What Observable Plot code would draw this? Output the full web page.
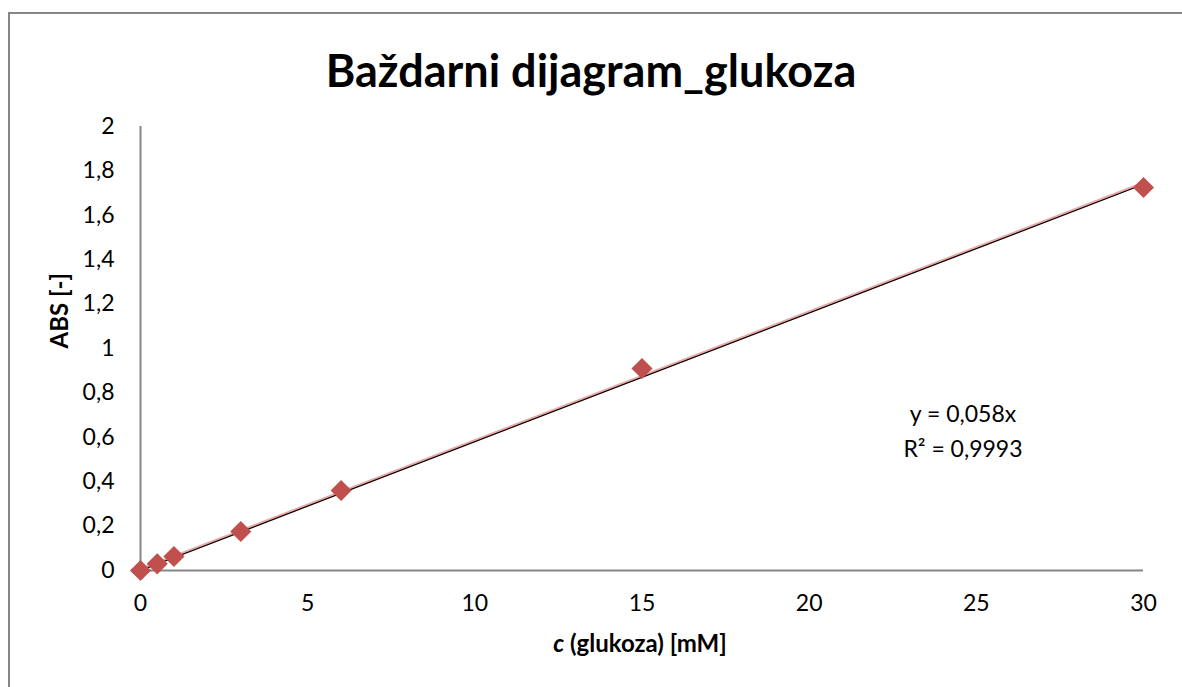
<!DOCTYPE html>
<html>
<head>
<meta charset="utf-8">
<script src="https://cdn.jsdelivr.net/npm/d3@7"></script>
<script src="https://cdn.jsdelivr.net/npm/@observablehq/plot@0.6"></script>
<style>
  html, body { margin: 0; padding: 0; background: #fff; }
  #wrap { position: relative; width: 1182px; height: 687px; overflow: hidden; font-family: Lato, "Open Sans", sans-serif; }
  #frame { position: absolute; left: 8px; top: 12px; width: 1200px; height: 700px; border-left: 2px solid #868686; border-top: 2px solid #868686; box-sizing: border-box; }
  #title { position: absolute; left: 0; top: 40px; width: 1182px; text-align: center; font-weight: bold; font-size: 45px; line-height: 60px; color: #000; }
  #chart { position: absolute; left: 0; top: 0; }
</style>
</head>
<body>
<div id="wrap">
  <div id="frame"></div>
  <div id="chart"></div>
  <div id="title">Baždarni dijagram_glukoza</div>
</div>
<script>
const concentration = [0, 0.5, 1, 3, 6, 15, 30];
const absorbance = [0, 0.03, 0.063, 0.176, 0.36, 0.91, 1.725];
const trendX = [0, 30];
const trendY = [0, 1.74];
const xTicks = [0, 5, 10, 15, 20, 25, 30];
const yTicks = [0, 0.2, 0.4, 0.6, 0.8, 1, 1.2, 1.4, 1.6, 1.8, 2];
const equationText = ["y = 0,058x", "R² = 0,9993"];

const points = concentration.map((c, i) => ({c, a: absorbance[i]}));
const trend = trendX.map((x, i) => ({x, y: trendY[i]}));
const fmt = d => String(d).replace(".", ",");

const plot = Plot.plot({
  width: 1182,
  height: 687,
  marginLeft: 140,
  marginRight: 39,
  marginTop: 126,
  marginBottom: 117,
  style: {fontFamily: "Lato, 'Open Sans', sans-serif", fontSize: "23px", color: "#000", background: "transparent", overflow: "visible"},
  x: {domain: [0, 30]},
  y: {domain: [0, 2]},
  marks: [
    Plot.axisX({ticks: xTicks, tickFormat: fmt, tickSize: 0, tickPadding: 24, fontSize: 23, label: null}),
    Plot.axisY({ticks: yTicks, tickFormat: fmt, tickSize: 0, tickPadding: 26, fontSize: 23, label: null}),
    Plot.ruleY([0], {stroke: "#868686", strokeWidth: 2}),
    Plot.ruleX([0], {stroke: "#868686", strokeWidth: 2}),
    Plot.line(trend, {x: "x", y: "y", stroke: "#E8A8A6", strokeWidth: 3, dy: -1}),
    Plot.line(trend, {x: "x", y: "y", stroke: "#000", strokeWidth: 1.2}),
    Plot.dot(points, {x: "c", y: "a", symbol: "diamond2", r: 9.5, fill: "#C0504D", stroke: "none"}),
    Plot.text([equationText[0]], {x: 24.6, y: 0.7, text: d => d, fontSize: 23, fill: "#000"}),
    Plot.text([equationText[1]], {x: 24.6, y: 0.545, text: d => d, fontSize: 23, fill: "#000"}),
    Plot.text(["ABS [-]"], {frameAnchor: "left", dx: -80, dy: 0, rotate: -90, text: d => d, fontSize: 24, fontWeight: "bold", fill: "#000"})
  ]
});
document.getElementById("chart").appendChild(plot);

// x-axis label with italic "c"
const svg = d3.select(plot);
const xl = svg.append("text")
  .attr("x", 640).attr("y", 652)
  .attr("text-anchor", "middle")
  .attr("font-size", 24).attr("font-weight", "bold").attr("fill", "#000");
xl.append("tspan").attr("font-style", "italic").text("c");
xl.append("tspan").text(" (glukoza) [mM]");
</script>
</body>
</html>
